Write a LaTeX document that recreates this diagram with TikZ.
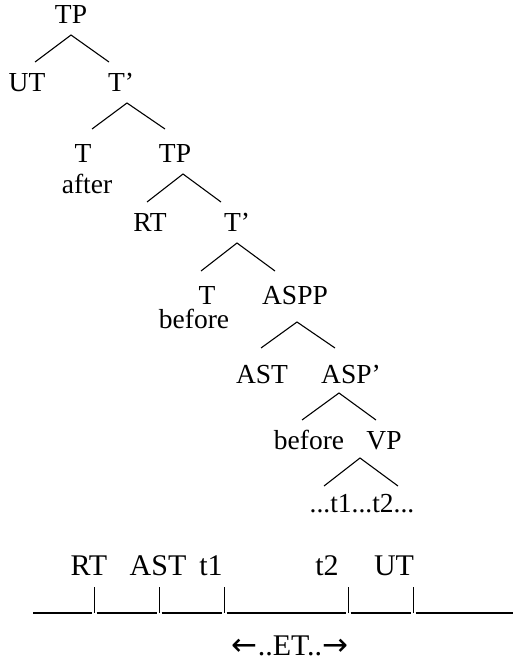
\documentclass[tikz,border=0pt]{standalone}
\usepackage{fontspec}
\setmainfont{Liberation Serif}
\newfontfamily\arrowfont{DejaVu Sans}

\begin{document}
\begin{tikzpicture}[
        x=1pt, y=-1pt,
        cat/.style={font=\fontsize{27.5}{32}\selectfont, inner sep=0pt, text height=18pt, text depth=0pt},
        tlabel/.style={font=\fontsize{30}{36}\selectfont, inner sep=0pt, text height=20pt, text depth=0pt},
        branch/.style={line width=1.1pt},
        axis/.style={line width=1.2pt},
        tickmark/.style={line width=0.9pt}
    ]
        \useasboundingbox (0,0) rectangle (512,661);

        % Tree nodes
        \node (tpA) [cat] at (71,15) {TP};
        \node (utA) [cat] at (27,83) {UT};
        \node (tbarA) [cat] at (121,83) {T’};
        \node (tA) [cat] at (83,153) {T};
        \node (tAw) [cat] at (87,184) {after};
        \node (tpB) [cat] at (175,153) {TP};
        \node (rt) [cat] at (150,222) {RT};
        \node (tbarB) [cat] at (237,222) {T’};
        \node (tB) [cat] at (207,295) {T};
        \node (tBw) [cat] at (194,319) {before};
        \node (aspp) [cat] at (295,295) {ASPP};
        \node (ast) [cat] at (262,374) {AST};
        \node (aspbar) [cat] at (351,374) {ASP’};
        \node (bef) [cat] at (309,440) {before};
        \node (vp) [cat] at (384,440) {VP};
        \node (trace) [cat] at (362,503) {...t1...t2...};

        % Branches
        \draw [branch] ([shift={(8,-21)}]utA.center) -- ([shift={(0,20)}]tpA.center) -- ([shift={(-12,-21)}]tbarA.center);
        \draw [branch] ([shift={(9,-24)}]tA.center) -- ([shift={(6,20)}]tbarA.center) -- ([shift={(-10,-24)}]tpB.center);
        \draw [branch] ([shift={(-3,-20)}]rt.center) -- ([shift={(8,21)}]tpB.center) -- ([shift={(-16,-20)}]tbarB.center);
        \draw [branch] ([shift={(-6,-24)}]tB.center) -- ([shift={(0,21)}]tbarB.center) -- ([shift={(-20,-24)}]aspp.center);
        \draw [branch] ([shift={(-1,-26)}]ast.center) -- ([shift={(2,27)}]aspp.center) -- ([shift={(-16,-26)}]aspbar.center);
        \draw [branch] ([shift={(-7,-20)}]bef.center) -- ([shift={(-12,19)}]aspbar.center) -- ([shift={(-8,-20)}]vp.center);
        \draw [branch] ([shift={(-38,-17)}]trace.center) -- ([shift={(-24,18)}]vp.center) -- ([shift={(36,-17)}]trace.center);

        % Time line
        \node (tlRT) [tlabel] at (89,565) {RT};
        \node (tlAST) [tlabel] at (158,565) {AST};
        \node (tlT1) [tlabel] at (211,565) {t1};
        \node (tlT2) [tlabel] at (327,565) {t2};
        \node (tlUT) [tlabel] at (394,565) {UT};
        \node (et) [tlabel] at (290,645) {{\arrowfont\fontsize{31}{36}\selectfont ←}..ET..{\arrowfont\fontsize{31}{36}\selectfont →}};

        \coordinate (axL) at (30.5,613);
        \coordinate (k1) at (94,613);
        \coordinate (k2) at (159,613);
        \coordinate (k3) at (224,613);
        \coordinate (k4) at (348,613);
        \coordinate (k5) at (413,613);
        \coordinate (axR) at (516,613);
        \foreach \a/\b in {axL/k1, k1/k2, k2/k3, k3/k4, k4/k5, k5/axR}
            \draw [axis] ([xshift=2.5pt]\a) -- ([xshift=-2.5pt]\b);
        \foreach \k in {k1, k2, k3, k4, k5}
            \draw [tickmark] (\k) -- ++(0,-26);
    \end{tikzpicture}
\end{document}
